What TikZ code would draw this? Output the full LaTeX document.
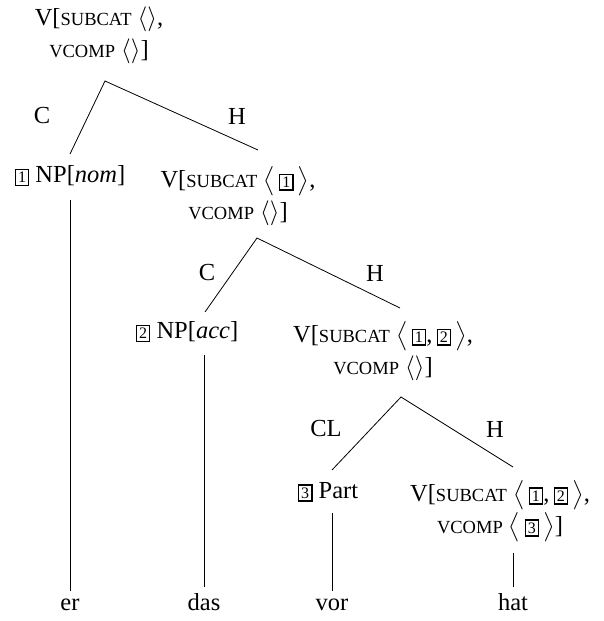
\documentclass[tikz,border=0pt]{standalone}
\usepackage{fontspec}
\setmainfont{Liberation Serif}
\usepackage{amsmath, amssymb}
\newcommand{\smcap}[1]{{\fontsize{18.5}{18.5}\selectfont #1}}
\newcommand{\tagbox}[1]{{\setlength{\fboxsep}{2pt}\setlength{\fboxrule}{1.3pt}\fbox{\fontsize{16}{16}\selectfont #1}}}

\begin{document}
\begin{tikzpicture}[x=1pt,y=-1pt,
    cat/.style={align=center, inner sep=0pt, font=\fontsize{24.5}{32}\selectfont},
    word/.style={inner sep=0pt, text height=16pt, text depth=5pt, font=\fontsize{24.5}{28}\selectfont},
    branch/.style={line width=0.8pt}]
      \useasboundingbox (0,0) rectangle (603,621);

      % categories
      \node[cat] (root) at (99,35) {V[\smcap{SUBCAT} $\langle\rangle$,\\ \smcap{VCOMP} $\langle\rangle$]};
      \node[cat] (np1) at (70,176) {\tagbox{1} NP[\textit{nom}]};
      \node[cat] (v1) at (238,196) {V[\smcap{SUBCAT} $\big\langle$\,\tagbox{1}\,$\big\rangle$,\\ \smcap{VCOMP} $\langle\rangle$]};
      \node[cat] (np2) at (187,332) {\tagbox{2} NP[\textit{acc}]};
      \node[cat] (v2) at (383,351) {V[\smcap{SUBCAT} $\big\langle$\,\tagbox{1},\,\tagbox{2}\,$\big\rangle$,\\ \smcap{VCOMP} $\langle\rangle$]};
      \node[cat] (part) at (328,492) {\tagbox{3} Part};
      \node[cat] (v3) at (500,511) {V[\smcap{SUBCAT} $\big\langle$\,\tagbox{1},\,\tagbox{2}\,$\big\rangle$,\\ \smcap{VCOMP} $\big\langle$\,\tagbox{3}\,$\big\rangle$]};

      % words
      \node[word, anchor=base] (er) at (70,610) {er};
      \node[word, anchor=base] (das) at (204,610) {das};
      \node[word, anchor=base] (vor) at (332,610) {vor};
      \node[word, anchor=base] (hat) at (513,610) {hat};

      % branch points
      \coordinate (a0) at (105,81);
      \coordinate (a1) at (257,238);
      \coordinate (a2) at (401,397);
      \coordinate (np1 top) at (70,154);
      \coordinate (v1 top) at (258,150);
      \coordinate (np2 top) at (205,312);
      \coordinate (v2 top) at (400,308);
      \coordinate (part top) at (332,470);
      \coordinate (v3 top) at (513,467);

      \draw[branch] (np1 top) -- (a0) -- (v1 top);
      \draw[branch] (np2 top) -- (a1) -- (v2 top);
      \draw[branch] (part top) -- (a2) -- (v3 top);

      \node[cat] (c0) at (42,116) {C};
      \node[cat] (h0) at (237,116) {H};
      \node[cat] (c1) at (207,273) {C};
      \node[cat] (h1) at (375,273) {H};
      \node[cat] (cl2) at (326,429) {CL};
      \node[cat] (h2) at (495,429) {H};

      % lexical lines
      \draw[branch, shorten >=3pt] (70,200) -- (er.north);
      \draw[branch, shorten >=7pt] (204,355) -- (das.north);
      \draw[branch, shorten >=3pt] (332,513) -- (vor.north);
      \draw[branch, shorten >=7pt] (513,553) -- (hat.north);
\end{tikzpicture}
\end{document}
